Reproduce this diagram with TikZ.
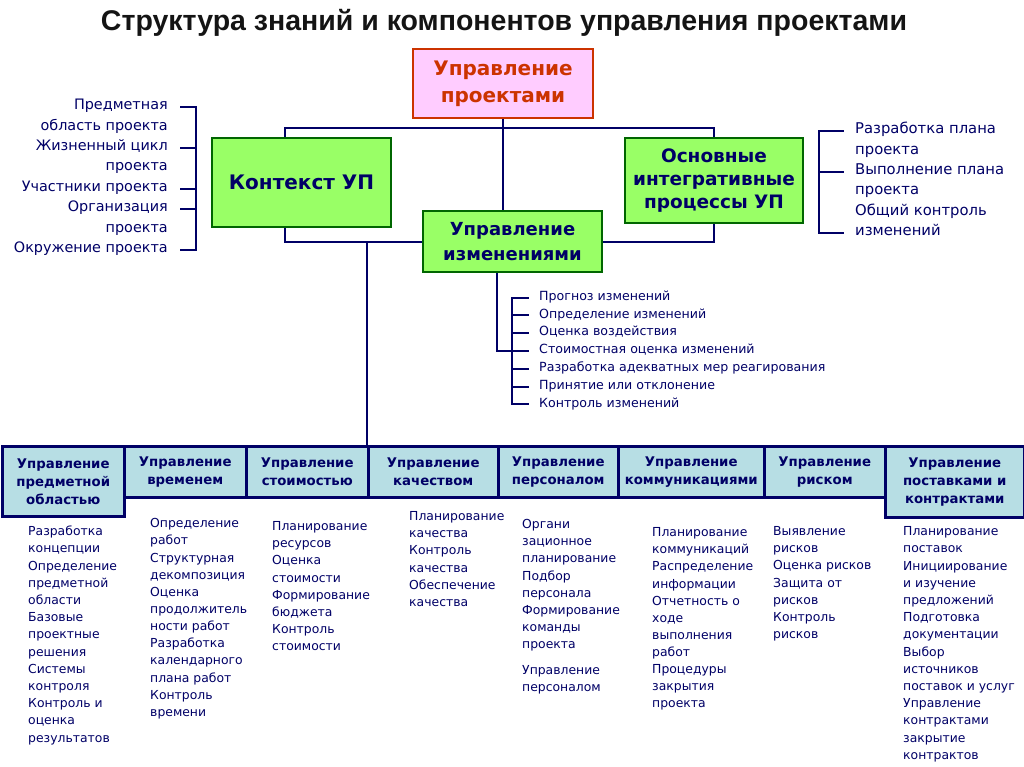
\documentclass[tikz,border=0pt]{standalone}
\usepackage{fontspec}
\setmainfont{DejaVu Sans}
\newfontfamily\titlefont{Liberation Sans}
\usetikzlibrary{backgrounds}
\definecolor{navy}{RGB}{0,0,102}
\definecolor{redc}{RGB}{204,51,0}
\definecolor{pinkc}{RGB}{255,204,255}
\definecolor{greenf}{RGB}{153,255,102}
\definecolor{greend}{RGB}{0,102,0}
\definecolor{bluef}{RGB}{183,222,228}
\definecolor{titlec}{RGB}{20,20,20}
\newcommand\txtlist[6]{%
  \foreach \t [count=\i from 0] in {#6}{
    \node[#5] (#1-\i) at (#2, {#3+\i*#4}) {\t};
  }}
\tikzset{
  conn/.style={draw=navy, line width=2, line cap=rect},
  lst/.style={inner sep=0, text=navy},
  lstL/.style={lst, anchor=mid east, font=\fontsize{14.4}{18}\selectfont},
  lstR/.style={lst, anchor=mid west, font=\fontsize{14.8}{18}\selectfont},
  lstM/.style={lst, anchor=mid west, font=\fontsize{12.6}{15}\selectfont},
  lstB/.style={lst, anchor=mid west, font=\fontsize{12.4}{15}\selectfont},
  topbox/.style={draw=redc, fill=pinkc, line width=2.5, text=redc, align=center, inner sep=0,
    font=\bfseries\fontsize{20}{27}\selectfont, minimum width=180, minimum height=69},
  gbox/.style={draw=greend, fill=greenf, line width=2.5, text=navy, align=center, inner sep=0,
    minimum width=179},
  bbox/.style={draw=navy, fill=bluef, line width=2.5, text=navy, align=center, inner sep=0,
    anchor=north west, font=\bfseries\fontsize{13.3}{18}\selectfont}
}
\begin{document}
\begin{tikzpicture}[x=1pt,y=-1pt]
\useasboundingbox (0,0) rectangle (1024,767);

\node[font=\titlefont\bfseries\fontsize{28.5}{32}\selectfont, text=titlec] (title) at (504,23)
  {Структура знаний и компонентов управления проектами};

\node[topbox] (top) at (503,83.5) {Управление\\проектами};
\node[gbox, minimum height=89, font=\bfseries\fontsize{20}{25}\selectfont] (ctx) at (301.5,182.5) {Контекст УП};
\node[gbox, minimum width=178, minimum height=85, font=\bfseries\fontsize{18.5}{23}\selectfont] (proc) at (714,180.5)
  {Основные\\интегративные\\процессы УП};
\node[gbox, minimum height=61, font=\bfseries\fontsize{18}{25}\selectfont] (chg) at (512.5,241.5)
  {Управление\\изменениями};

% bottom row
\node[bbox, minimum width=122, minimum height=70] (b1) at (1,445) {Управление\\предметной\\областью};
\node[bbox, minimum width=122, minimum height=51] (b2) at (123,445) {Управление\\временем};
\node[bbox, minimum width=122, minimum height=51] (b3) at (245,445) {Управление\\стоимостью};
\node[bbox, minimum width=130, minimum height=51] (b4) at (367,445) {Управление\\качеством};
\node[bbox, minimum width=120, minimum height=51] (b5) at (497,445) {Управление\\персоналом};
\node[bbox, minimum width=146, minimum height=51] (b6) at (617,445) {Управление\\коммуникациями};
\node[bbox, minimum width=121, minimum height=51] (b7) at (763,445) {Управление\\риском};
\node[bbox, minimum width=139, minimum height=71] (b8) at (884,445) {Управление\\поставками и\\контрактами};

% side lists
\txtlist{l}{168}{107}{20.4}{lstL}{Предметная,область проекта,Жизненный цикл,проекта,Участники проекта,Организация,проекта,Окружение проекта}
\txtlist{r}{855}{131}{20.4}{lstR}{Разработка плана,проекта,Выполнение плана,проекта,Общий контроль,изменений}
\txtlist{m}{539}{297.5}{17.8}{lstM}{Прогноз изменений,Определение изменений,Оценка воздействия,Стоимостная оценка изменений,Разработка адекватных мер реагирования,Принятие или отклонение,Контроль изменений}

% bottom lists
\txtlist{p1}{28}{533}{17.2}{lstB}{Разработка,концепции,Определение,предметной,области,Базовые,проектные,решения,Системы,контроля,Контроль и,оценка,результатов}
\txtlist{p2}{150}{525}{17.15}{lstB}{Определение,работ,Структурная,декомпозиция,Оценка,продолжитель,ности работ,Разработка,календарного,плана работ,Контроль,времени}
\txtlist{p3}{272}{528}{17.1}{lstB}{Планирование,ресурсов,Оценка,стоимости,Формирование,бюджета,Контроль,стоимости}
\txtlist{p4}{409}{518}{17.1}{lstB}{Планирование,качества,Контроль,качества,Обеспечение,качества}
\txtlist{p5}{522}{526}{17.1}{lstB}{Органи,зационное,планирование,Подбор,персонала,Формирование,команды,проекта}
\txtlist{p5b}{522}{672}{17.1}{lstB}{Управление,персоналом}
\txtlist{p6}{652}{534}{17.1}{lstB}{Планирование,коммуникаций,Распределение,информации,Отчетность о,ходе,выполнения,работ,Процедуры,закрытия,проекта}
\txtlist{p7}{773}{533}{17.1}{lstB}{Выявление,рисков,Оценка рисков,Защита от,рисков,Контроль,рисков}
\txtlist{p8}{903}{533}{17.2}{lstB}{Планирование,поставок,Инициирование,и изучение,предложений,Подготовка,документации,Выбор,источников,поставок и услуг,Управление,контрактами,закрытие,контрактов}

\begin{pgfonlayer}{background}
  \coordinate (hl) at (285,128);
  \coordinate (hr) at (714,128);
  \coordinate (ll) at (285,242);
  \coordinate (lr) at (714,242);
  \coordinate (st) at (367,242);
  \coordinate (ms) at (497,0);
  % upper tree
  \draw[conn] (top.south) -- (top.south |- chg.north);
  \draw[conn] (ctx.north -| hl) -- (hl) -- (hr) -- (proc.north -| hr);
  % lower tree
  \draw[conn] (ctx.south -| ll) -- (ll) -- (lr) -- (proc.south -| lr);
  \draw[conn] (st) -- (st |- b4.north);
  % change list
  \draw[conn] (chg.south -| ms) |- ([xshift=-11]m-3.mid west);
  \draw[conn] ([xshift=-27]m-0.mid west) -- ([xshift=-27]m-6.mid west);
  \foreach \i in {0,...,6}{\draw[conn] ([xshift=-27]m-\i.mid west) -- ([xshift=-11]m-\i.mid west);}
  % left bracket
  \draw[conn] ([xshift=28]l-0.mid east) -- ([xshift=28]l-7.mid east);
  \foreach \i in {0,2,4,5,7}{\draw[conn] ([xshift=13]l-\i.mid east) -- ([xshift=28]l-\i.mid east);}
  % right bracket
  \draw[conn] ([xshift=-36]r-0.mid west) -- ([xshift=-36]r-5.mid west);
  \foreach \i in {0,2,5}{\draw[conn] ([xshift=-36]r-\i.mid west) -- ([xshift=-12]r-\i.mid west);}
\end{pgfonlayer}
\end{tikzpicture}
\end{document}
